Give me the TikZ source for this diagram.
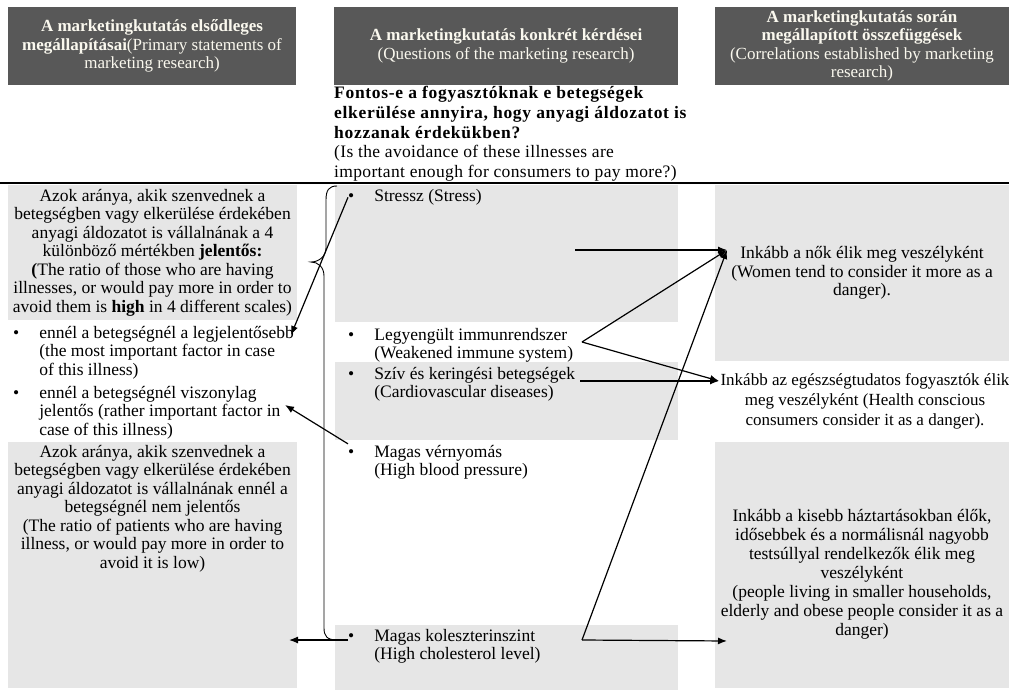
\documentclass[tikz,border=0pt]{standalone}
\usepackage{fontspec}
\setmainfont{Liberation Serif}
\usetikzlibrary{arrows.meta,positioning}

\definecolor{hdrgray}{RGB}{88,88,88}
\definecolor{boxgray}{RGB}{230,230,230}
\definecolor{hdrtext}{RGB}{250,248,238}

% bullet item with hanging lines
\newcommand{\bitem}[1]{\textbullet\hspace{20pt}\begin{tabular}[t]{@{}l@{}}#1\end{tabular}}
\newcommand{\qb}{\bfseries\addfontfeatures{LetterSpace=4}}
\newcommand{\qr}{\addfontfeatures{LetterSpace=2}}

\begin{document}
\begin{tikzpicture}[x=1pt,y=-1pt,
  font=\fontsize{17.5}{18.5}\selectfont,
  hdr/.style={rectangle, fill=hdrgray, text=hdrtext, align=center, inner sep=0pt,
    font=\fontsize{17}{18.5}\selectfont},
  gbox/.style={rectangle, fill=boxgray, inner sep=0pt, align=center},
  txt/.style={inner sep=0pt, align=center, anchor=base},
  itm/.style={inner sep=0pt, anchor=base west},
  arr/.style={-{Latex[length=9pt,width=7pt]}, line width=1.2pt}]
\useasboundingbox (0,0) rectangle (1009,690);

% headers
\node[hdr, minimum width=288, minimum height=78] (h1) at (152,46)
  {\textbf{A marketingkutatás elsődleges}\\\textbf{megállapításai}(Primary statements of\\marketing research)};
\node[hdr, minimum width=344, minimum height=78] (h2) at (506,46)
  {\textbf{A marketingkutatás konkrét kérdései}\\(Questions of the marketing research)};
\node[hdr, minimum width=294, minimum height=78] (h3) at (862,46)
  {\textbf{A marketingkutatás során}\\\textbf{megállapított összefüggések}\\(Correlations established by marketing\\research)};

% question (anchored on its last line)
\node[inner sep=0pt, anchor=base west, align=left, font=\fontsize{17.5}{19.5}\selectfont] (q) at (334,177)
  {{\qb Fontos-e a fogyasztóknak e betegségek}\\{\qb elkerülése annyira, hogy anyagi áldozatot is}\\{\qb hozzanak érdekükben?}\\{\qr (Is the avoidance of these illnesses are}\\{\qr important enough for consumers to pay more?)}};

\draw[line width=1.5pt] (0,183) -- (1009,183);

% gray boxes
\node[gbox, minimum width=289, minimum height=135] (l1) at (152.5,252.5)
  {Azok aránya, akik szenvednek a\\betegségben vagy elkerülése érdekében\\anyagi áldozatot is vállalnának a 4\\különböző mértékben \textbf{jelentős:}\\\textbf{(}The ratio of those who are having\\illnesses, or would pay more in order to\\avoid them is \textbf{high} in 4 different scales)};
\node[gbox, minimum width=289, minimum height=246] (l2) at (152.5,565) {};
\node[gbox, minimum width=343, minimum height=137] (mA) at (506.5,253.5) {};
\node[gbox, minimum width=343, minimum height=78] (mB) at (506.5,401) {};
\node[gbox, minimum width=343, minimum height=65] (mC) at (506.5,657.5) {};
\node[gbox, minimum width=294, minimum height=176] (r1) at (862,273)
  {Inkább a nők élik meg veszélyként\\(Women tend to consider it more as a\\danger).};
\node[gbox, minimum width=294, minimum height=246] (r3) at (862,565) {};

% left column
\node[itm] (it1) at (13,338) {\bitem{ennél a betegségnél a legjelentősebb\\(the most important factor in case\\of this illness)}};
\node[itm] (it2) at (13,398) {\bitem{ennél a betegségnél viszonylag\\jelentős (rather important factor in\\case of this illness)}};
\node[txt] (l2t) at (152.5,568) {Azok aránya, akik szenvednek a\\betegségben vagy elkerülése érdekében\\anyagi áldozatot is vállalnának ennél a\\betegségnél nem jelentős\\(The ratio of patients who are having\\illness, or would pay more in order to\\avoid it is low)};

% middle column
\node[itm] (stress) at (348,201) {\bitem{Stressz (Stress)}};
\node[itm] (imm) at (348,340) {\bitem{Legyengült immunrendszer\\(Weakened immune system)}};
\node[itm] (card) at (348,379) {\bitem{Szív és keringési betegségek\\(Cardiovascular diseases)}};
\node[itm] (bp) at (348,457) {\bitem{Magas vérnyomás\\(High blood pressure)}};
\node[itm] (chol) at (348,641) {\bitem{Magas koleszterinszint\\(High cholesterol level)}};

% right column
\node[txt, font=\fontsize{17}{20}\selectfont] (r2) at (865,425) {Inkább az egészségtudatos fogyasztók élik\\meg veszélyként (Health conscious\\consumers consider it as a danger).};
\node[txt, font=\fontsize{17.5}{19}\selectfont] (r3t) at (862,635) {Inkább a kisebb háztartásokban élők,\\idősebbek és a normálisnál nagyobb\\testsúllyal rendelkezők élik meg\\veszélyként\\(people living in smaller households,\\elderly and obese people consider it as a\\danger)};

% connector ends
\coordinate (tip1) at (291,335);
\coordinate (tip2) at (285,405);
\coordinate (tip3) at (289,640);
\coordinate (stressout) at (575,250);
\coordinate (immout) at (582,342);
\coordinate (cardout) at (580,381);
\coordinate (cholout) at (582,640);
\coordinate (womenin) at (727,250);
\coordinate (healthin) at (719,381);
\coordinate (smallin) at (727,641);

% brace
\draw[line width=0.9pt] (337,186) .. controls (329,186) and (326,190) .. (326,200) -- (326,248)
  .. controls (326,257) and (318,262) .. (311,262) .. controls (318,262) and (324,267) .. (324,276)
  -- (324,628) .. controls (324,636) and (327,640) .. (337,640);

\draw[arr] (stress.west) -- (tip1);
\draw[arr] (bp.north west) -- (tip2);
\draw[arr] (chol.west |- tip3) -- (tip3);
\draw[arr] (stressout) -- (womenin);
\draw[arr] (immout) -- (womenin);
\draw[arr] (immout) -- (healthin);
\draw[arr] (cardout) -- (healthin);
\draw[arr] (cholout) -- (womenin);
\draw[arr] (cholout) -- (smallin);
\end{tikzpicture}
\end{document}
